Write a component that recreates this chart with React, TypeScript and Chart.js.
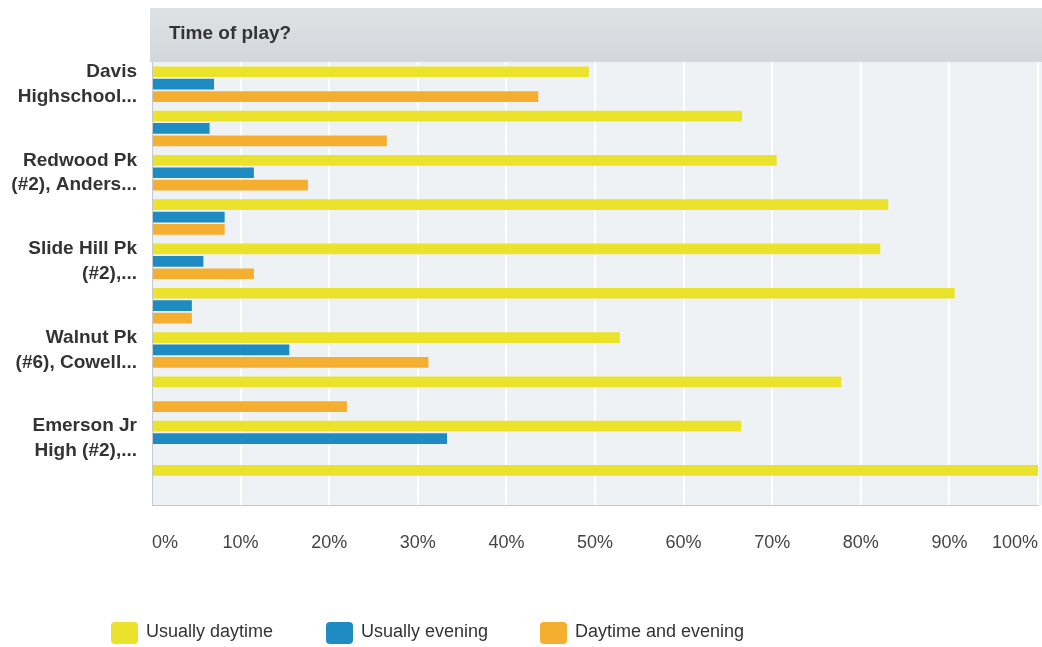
import React, { useEffect, useRef } from "react";
import { Chart, registerables } from "chart.js";

Chart.register(...registerables);

// ---- Data ----
const categories: string[][] = [
  ["Davis", "Highschool..."],
  [""],
  ["Redwood Pk", "(#2), Anders..."],
  [""],
  ["Slide Hill Pk", "(#2),..."],
  [""],
  ["Walnut Pk", "(#6), Cowell..."],
  [""],
  ["Emerson Jr", "High (#2),..."],
  [""],
];
const seriesNames = ["Usually daytime", "Usually evening", "Daytime and evening"];
const usuallyDaytime = [49.3, 66.6, 70.5, 83.1, 82.2, 90.6, 52.8, 77.8, 66.5, 100];
const usuallyEvening = [7.0, 6.5, 11.5, 8.2, 5.8, 4.5, 15.5, 0, 33.3, 0];
const daytimeAndEvening = [43.6, 26.5, 17.6, 8.2, 11.5, 4.5, 31.2, 22.0, 0, 0];
const titleText = "Time of play?";

// ---- Styles ----
const FONT = "'Liberation Sans', Arial, Helvetica, sans-serif";
const colors = ["#ebe22c", "#1f8bc3", "#f4ae30"];

const backgroundPlugin = {
  id: "bgPlugin",
  beforeDraw(chart: any) {
    const { ctx, chartArea } = chart;
    ctx.save();
    ctx.fillStyle = "#ffffff";
    ctx.fillRect(0, 0, chart.width, chart.height);
    // title bar
    const g = ctx.createLinearGradient(0, 8, 0, chartArea.top);
    g.addColorStop(0, "#dfe2e5");
    g.addColorStop(1, "#d3d6da");
    ctx.fillStyle = g;
    ctx.fillRect(chartArea.left - 2, 8, chart.width - chartArea.left + 2, chartArea.top - 8);
    // plot background
    ctx.fillStyle = "#eef2f4";
    ctx.fillRect(chartArea.left, chartArea.top, chartArea.right - chartArea.left + 4, chartArea.bottom - chartArea.top);
    // title text
    ctx.fillStyle = "#333333";
    ctx.font = `bold 19px ${FONT}`;
    ctx.textBaseline = "middle";
    ctx.textAlign = "left";
    ctx.fillText(titleText, chartArea.left + 17, 34);
    ctx.restore();
  },
};

const legendPlugin = {
  id: "customLegend",
  afterDraw(chart: any) {
    const { ctx } = chart;
    const starts = [111, 326, 540];
    ctx.save();
    chart.data.datasets.forEach((ds: any, i: number) => {
      const x = starts[i];
      const y = 622;
      ctx.fillStyle = ds.backgroundColor;
      ctx.beginPath();
      (ctx as any).roundRect(x, y, 27, 22, 4);
      ctx.fill();
      ctx.fillStyle = "#333333";
      ctx.font = `18px ${FONT}`;
      ctx.textBaseline = "middle";
      ctx.textAlign = "left";
      ctx.fillText(ds.label, x + 35, y + 10);
    });
    ctx.restore();
  },
};

export default function App() {
  const canvasRef = useRef<HTMLCanvasElement | null>(null);

  useEffect(() => {
    if (!canvasRef.current) return;
    const chart = new Chart(canvasRef.current, {
      type: "bar",
      data: {
        labels: categories,
        datasets: [
          { label: seriesNames[0], data: usuallyDaytime, backgroundColor: colors[0] },
          { label: seriesNames[1], data: usuallyEvening, backgroundColor: colors[1] },
          { label: seriesNames[2], data: daytimeAndEvening, backgroundColor: colors[2] },
        ],
      },
      options: {
        indexAxis: "y",
        animation: false,
        responsive: false,
        devicePixelRatio: 1,
        layout: { padding: { top: 62, right: 4, left: 0, bottom: 0 } },
        datasets: {
          bar: { categoryPercentage: 0.84, barPercentage: 0.86, borderWidth: 0 },
        },
        plugins: {
          legend: { display: false },
          title: { display: false },
          tooltip: { enabled: false },
        },
        scales: {
          x: {
            min: 0,
            max: 100,
            ticks: {
              stepSize: 10,
              align: "inner",
              padding: 27,
              color: "#444444",
              font: { family: FONT, size: 18 },
              callback: (v: any) => `${v}%`,
            },
            grid: { color: "#ffffff", lineWidth: 2, drawTicks: false },
            border: { display: true, color: "#c6c9cd", width: 1 },
            afterFit: (scale: any) => {
              scale.height = 142;
              scale.paddingLeft = 0;
              scale.paddingRight = 0;
            },
          },
          y: {
            ticks: {
              autoSkip: false,
              padding: 15,
              color: "#333333",
              font: { family: FONT, size: 19, weight: "bold", lineHeight: 1.3 },
            },
            grid: { display: false, drawTicks: false },
            border: { display: true, color: "#c6c9cd", width: 1 },
            afterFit: (scale: any) => {
              scale.width = 152;
            },
          },
        },
      } as any,
      plugins: [backgroundPlugin, legendPlugin],
    });
    return () => chart.destroy();
  }, []);

  return (
    <div style={{ position: "absolute", left: 0, top: 0, width: 1042, height: 647, background: "#fff" }}>
      <canvas ref={canvasRef} width={1042} height={647} style={{ display: "block" }} />
    </div>
  );
}
